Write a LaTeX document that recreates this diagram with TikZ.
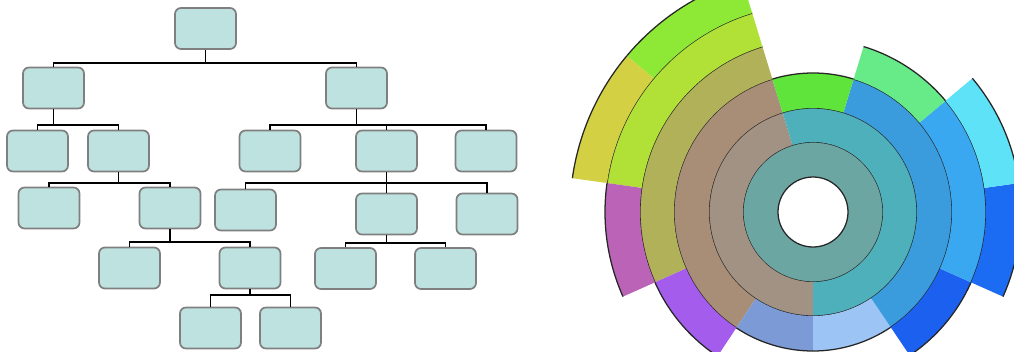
\documentclass[tikz,border=0pt]{standalone}
\usepackage{xcolor}
\usepackage{tikz}
\usetikzlibrary{shapes}

% tree colours
\definecolor{boxfill}{HTML}{BDE2E0}
\definecolor{boxline}{HTML}{7F7F7F}
% sunburst colours, inner ring first
\definecolor{sbcore}{HTML}{6CA6A2}
\definecolor{sbbrowna}{HTML}{A29283}
\definecolor{sbteal}{HTML}{4DB0BA}
\definecolor{sbbrownb}{HTML}{A88E76}
\definecolor{sbperi}{HTML}{7C9BD6}
\definecolor{sbpale}{HTML}{9CC5F6}
\definecolor{sbbluea}{HTML}{3A9BDD}
\definecolor{sbgreena}{HTML}{5EE43A}
\definecolor{sbolive}{HTML}{B1B15A}
\definecolor{sbpurple}{HTML}{A35CEC}
\definecolor{sbdeepa}{HTML}{1B60EF}
\definecolor{sbblueb}{HTML}{3AA8F0}
\definecolor{sbgreenb}{HTML}{66EB88}
\definecolor{sblime}{HTML}{B1E137}
\definecolor{sbmagenta}{HTML}{BB63B7}
\definecolor{sbdeepb}{HTML}{1B6CF2}
\definecolor{sbcyan}{HTML}{5DE2F8}
\definecolor{sbgreenc}{HTML}{8EE937}
\definecolor{sbyellow}{HTML}{D3D043}

\tikzset{
	box/.style={draw=boxline,fill=boxfill,line width=1.2pt,rounded corners=0.15cm,
		minimum width=1.525cm,minimum height=1.025cm,inner sep=0pt},
	link/.style={draw=black,line width=1.4pt},
	rim/.style={draw=black!85,line width=0.9pt},
}

% one piece of a ring: start angle, end angle, inner radius, outer radius, colour
\newcommand{\ringpart}[5]{%
	\fill[#5] (#1:#3) arc[start angle=#1,end angle=#2,radius=#3]
		-- (#2:#4) arc[start angle=#2,end angle=#1,radius=#4] -- cycle;
	\draw[rim] (#1:#4) arc[start angle=#1,end angle=#2,radius=#4];
}

\begin{document}
\begin{tikzpicture}[x=0.025cm,y=0.025cm]
	\useasboundingbox (0,0) rectangle (1014,351);
	%
	% tree
	\node[box] (T) at (205.5,322.5) {};
	\node[box] (L) at (53.5,263) {};
	\node[box] (R) at (356.5,263) {};
	\node[box] (LA) at (37.5,200) {};
	\node[box] (LB) at (118.5,200) {};
	\node[box] (RA) at (270,200) {};
	\node[box] (RB) at (386.5,200) {};
	\node[box] (RC) at (486,200) {};
	\node[box] (LBA) at (49,143) {};
	\node[box] (LBB) at (170,143) {};
	\node[box] (RBA) at (245.5,141) {};
	\node[box] (RBB) at (386.5,137) {};
	\node[box] (RBC) at (487,137) {};
	\node[box] (LBBA) at (129.5,83) {};
	\node[box] (LBBB) at (250,83) {};
	\node[box] (RBBA) at (345.5,82.5) {};
	\node[box] (RBBB) at (445.5,82.5) {};
	\node[box] (LBBBA) at (210.5,23) {};
	\node[box] (LBBBB) at (290.5,23) {};
	%
	% links, parent down to its bus, then across and down
	\draw[link] (T.south) -- ++(0,-13) -| (L.north);
	\draw[link] (T.south) -- ++(0,-13) -| (R.north);
	\draw[link] (L.south) -- ++(0,-16) -| (LA.north);
	\draw[link] (L.south) -- ++(0,-16) -| (LB.north);
	\draw[link] (R.south) -- ++(0,-16) -| (RA.north);
	\draw[link] (R.south) -- ++(0,-16) -| (RB.north);
	\draw[link] (R.south) -- ++(0,-16) -| (RC.north);
	\draw[link] (LB.south) -- ++(0,-11) -| (LBA.north);
	\draw[link] (LB.south) -- ++(0,-11) -| (LBB.north);
	\draw[link] (RB.south) -- ++(0,-11) -| (RBA.north);
	\draw[link] (RB.south) -- ++(0,-11) -| (RBB.north);
	\draw[link] (RB.south) -- ++(0,-11) -| (RBC.north);
	\draw[link] (LBB.south) -- ++(0,-13) -| (LBBA.north);
	\draw[link] (LBB.south) -- ++(0,-13) -| (LBBB.north);
	\draw[link] (RBB.south) -- ++(0,-8) -| (RBBA.north);
	\draw[link] (RBB.south) -- ++(0,-8) -| (RBBB.north);
	\draw[link] (LBBB.south) -- ++(0,-6) -| (LBBBA.north);
	\draw[link] (LBBB.south) -- ++(0,-6) -| (LBBBB.north);
	%
	% sunburst
	\begin{scope}
		\clip (0,0) rectangle (1014,351);
		\begin{scope}[shift={(813,139)}]
			% ring 1
			\ringpart{0}{360}{35}{70}{sbcore}
			% ring 2
			\ringpart{107}{270}{70}{104}{sbbrowna}
			\ringpart{-90}{107}{70}{104}{sbteal}
			% ring 3
			\ringpart{107}{236.5}{104}{139}{sbbrownb}
			\ringpart{236.5}{270}{104}{139}{sbperi}
			\ringpart{-90}{-56}{104}{139}{sbpale}
			\ringpart{-56}{73}{104}{139}{sbbluea}
			\ringpart{73}{107}{104}{139}{sbgreena}
			% ring 4
			\ringpart{107}{204}{139}{173}{sbolive}
			\ringpart{204}{236.5}{139}{173}{sbpurple}
			\ringpart{-56}{-24}{139}{173}{sbdeepa}
			\ringpart{-24}{40}{139}{173}{sbblueb}
			\ringpart{40}{73}{139}{173}{sbgreenb}
			% ring 5
			\ringpart{107}{172}{173}{208}{sblime}
			\ringpart{172}{204}{173}{208}{sbmagenta}
			\ringpart{-24}{8}{173}{208}{sbdeepb}
			\ringpart{8}{40}{173}{208}{sbcyan}
			% ring 6
			\ringpart{107}{140}{208}{243}{sbgreenc}
			\ringpart{140}{172}{208}{243}{sbyellow}
			% hole
			\draw[rim,fill=white] (0,0) circle[radius=35];
		\end{scope}
	\end{scope}
\end{tikzpicture}
\end{document}
